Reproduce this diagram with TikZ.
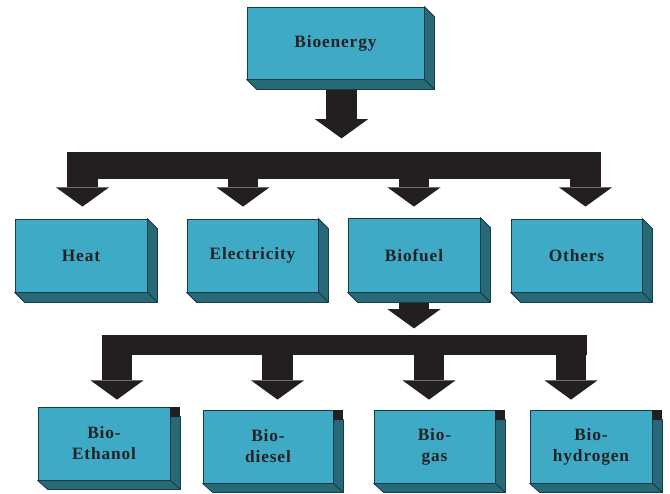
\documentclass[tikz,border=0pt]{standalone}
\usepackage{fontspec}
\newfontfamily\boxfont{Liberation Serif}[LetterSpace=5]
\usetikzlibrary{arrows.meta}
\usetikzlibrary{calc}
\usetikzlibrary{backgrounds}
\definecolor{Box-face}{RGB}{63,170,198}
\definecolor{Box-side}{RGB}{40,105,120}
\definecolor{Box-edge}{RGB}{22,60,72}
\definecolor{Arrow-black}{RGB}{35,31,32}
\definecolor{Label-dark}{RGB}{34,34,38}
\newcommand{\pxu}{0.75pt}

\tikzset{
  front/.style={draw=Box-edge, fill=Box-face, line width=0.6pt, inner sep=0pt, align=center,
                text=Label-dark, font=\boxfont\bfseries\fontsize{13}{15.75}\selectfont},
  side/.style={draw=Box-edge, fill=Box-side, line width=0.6pt, line join=round},
  bar/.style={fill=Arrow-black, inner sep=0pt},
  drop/.style={draw=Arrow-black, line width=23pt, -{Triangle[width=40pt, length=14.5pt, line width=0pt]}},
}

\begin{document}
\begin{tikzpicture}[x=\pxu, y=-\pxu]
    \useasboundingbox (0,0) rectangle (670,493);

    \node[front, minimum width=177*\pxu, minimum height=72*\pxu] (bioenergy) at (335.5, 43.0) {Bioenergy};

    \node[front, minimum width=132*\pxu, minimum height=73*\pxu] (heat)        at ( 81.0, 255.5) {Heat};
    \node[front, minimum width=131*\pxu, minimum height=73*\pxu] (electricity) at (252.5, 255.5) {Electricity};
    \node[front, minimum width=132*\pxu, minimum height=74*\pxu] (biofuel)     at (414.0, 255.0) {Biofuel};
    \node[front, minimum width=131*\pxu, minimum height=73*\pxu] (others)      at (576.5, 255.5) {Others};

    \node[front, minimum width=132*\pxu, minimum height=73*\pxu] (ethanol)  at (104.0, 443.5) {Bio-\\Ethanol};
    \node[front, minimum width=130*\pxu, minimum height=73*\pxu] (diesel)   at (268.0, 446.5) {Bio-\\diesel};
    \node[front, minimum width=121*\pxu, minimum height=73*\pxu] (gas)      at (434.5, 446.5) {Bio-\\gas};
    \node[front, minimum width=122*\pxu, minimum height=73*\pxu] (hydrogen) at (591.0, 446.5) {Bio-\\hydrogen};

    \node[bar, minimum width=534*\pxu, minimum height=27*\pxu] (bar1) at (334.0, 165.5) {};
    \node[bar, minimum width=485*\pxu, minimum height=20*\pxu] (bar2) at (344.5, 345.0) {};

    % arrow tips
    \coordinate (tip_bio)   at ($(bioenergy.south)+(6,59)$);
    \coordinate (tip_heat)  at ($(heat.north)+(1.5,-12)$);
    \coordinate (tip_elec)  at ($(electricity.north)+(-9.5,-12)$);
    \coordinate (tip_fuel)  at ($(biofuel.north)+(0,-11)$);
    \coordinate (tip_other) at ($(others.north)+(9,-12)$);
    \coordinate (tip_down)  at ($(biofuel.south)+(0,36)$);
    \coordinate (tip_eth)   at ($(ethanol.north)+(13,-7)$);
    \coordinate (tip_dies)  at ($(diesel.north)+(9.5,-10)$);
    \coordinate (tip_gas)   at ($(gas.north)+(-5.5,-10)$);
    \coordinate (tip_hyd)   at ($(hydrogen.north)+(-20,-10)$);

    \begin{scope}[on background layer]
        \draw[drop] (bioenergy.south -| tip_bio) -- (tip_bio);

        \draw[drop] (bar1.north -| tip_heat)  -- (tip_heat);
        \draw[drop] (bar1.north -| tip_elec)  -- (tip_elec);
        \draw[drop] (bar1.north -| tip_fuel)  -- (tip_fuel);
        \draw[drop] (bar1.north -| tip_other) -- (tip_other);

        \draw[drop] (biofuel.south) -- (tip_down);

        \draw[drop] (bar2.north -| tip_eth)  -- (tip_eth);
        \draw[drop] (bar2.north -| tip_dies) -- (tip_dies);
        \draw[drop] (bar2.north -| tip_gas)  -- (tip_gas);
        \draw[drop] (bar2.north -| tip_hyd)  -- (tip_hyd);
    \end{scope}

    % box depth
    \foreach \n in {bioenergy,heat,electricity,biofuel,others}{
        \filldraw[side] (\n.north east) -- ([shift={(10,10)}]\n.north east) -- ([shift={(10,10)}]\n.south east) -- (\n.south east) -- cycle;
        \filldraw[side] (\n.south west) -- ([shift={(10,10)}]\n.south west) -- ([shift={(10,10)}]\n.south east) -- (\n.south east) -- cycle;
    }
    \foreach \n in {ethanol,diesel,gas,hydrogen}{
        \filldraw[side] ([shift={(0,10)}]\n.north east) -- ([shift={(10,10)}]\n.north east) -- ([shift={(10,9)}]\n.south east) -- (\n.south east) -- cycle;
        \fill[Arrow-black] (\n.north east) rectangle ([shift={(10,10)}]\n.north east);
        \filldraw[side] (\n.south west) -- ([shift={(10,9)}]\n.south west) -- ([shift={(10,9)}]\n.south east) -- (\n.south east) -- cycle;
    }
\end{tikzpicture}
\end{document}
